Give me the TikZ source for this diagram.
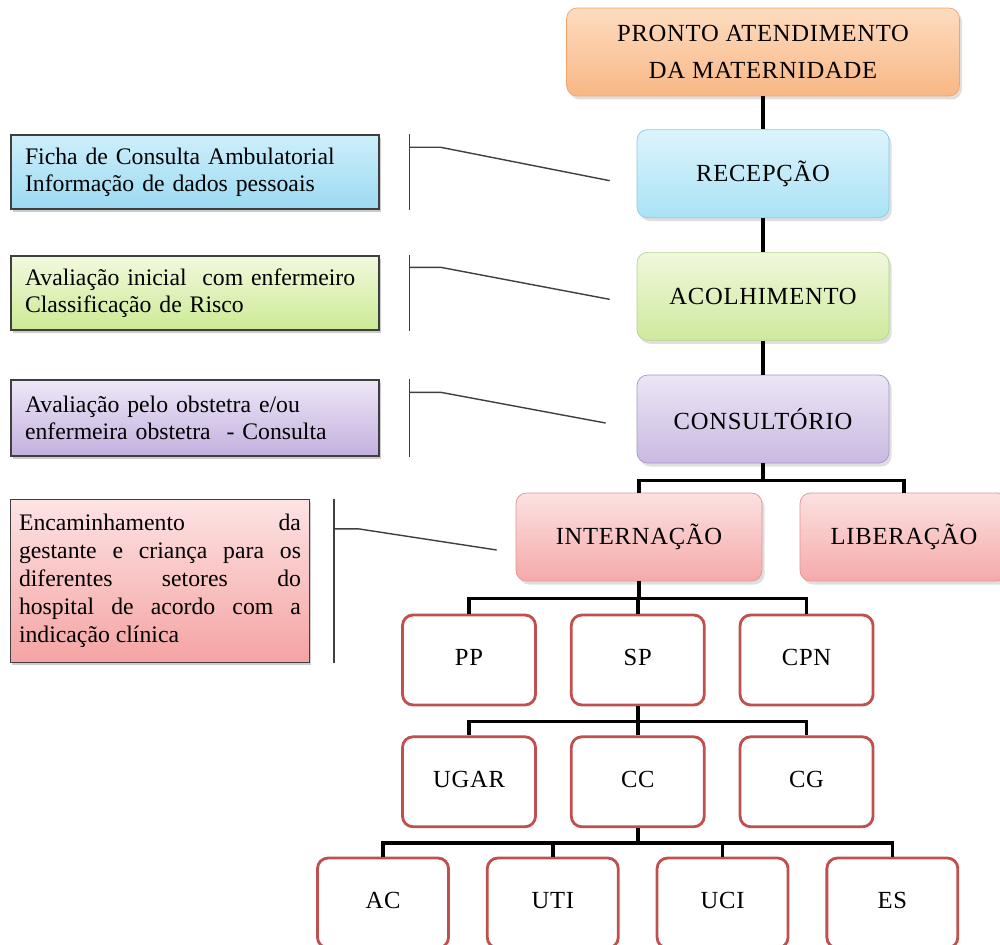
\documentclass[tikz,border=0pt]{standalone}
\usepackage{fontspec}
\setmainfont{Liberation Serif}
\newfontfamily\boxfont[LetterSpace=3]{Liberation Serif}
\usetikzlibrary{positioning,shadows,calc}
\definecolor{ProntoTop}{HTML}{FDDCC0}
\definecolor{ProntoBot}{HTML}{F9B784}
\definecolor{ProntoLine}{HTML}{F2A56A}
\definecolor{RecTop}{HTML}{DDF4FC}
\definecolor{RecBot}{HTML}{A9E2F6}
\definecolor{RecLine}{HTML}{86CDE6}
\definecolor{AcoTop}{HTML}{EFF8DC}
\definecolor{AcoBot}{HTML}{CFE99E}
\definecolor{AcoLine}{HTML}{B3D586}
\definecolor{ConsTop}{HTML}{ECE5F5}
\definecolor{ConsBot}{HTML}{C9B9E1}
\definecolor{ConsLine}{HTML}{A797C9}
\definecolor{IntTop}{HTML}{FCE1E1}
\definecolor{IntBot}{HTML}{F6A9A9}
\definecolor{IntLine}{HTML}{E39595}
\definecolor{SectorCol}{HTML}{C0504D}
\definecolor{NoteLine}{HTML}{3F3F3F}
\definecolor{NoteBlueTop}{HTML}{CDEFFB}
\definecolor{NoteBlueBot}{HTML}{9CDAF2}
\definecolor{NoteGreenTop}{HTML}{F2F9DE}
\definecolor{NoteGreenBot}{HTML}{CCEA94}
\definecolor{NotePurpTop}{HTML}{EEE7F7}
\definecolor{NotePurpBot}{HTML}{C3B0DE}
\definecolor{NotePinkTop}{HTML}{FDE3E3}
\definecolor{NotePinkBot}{HTML}{F5A3A3}
\tikzset{
  rounded box/.style={
    shape = rectangle,
    draw,
    rounded corners=6pt,
    align=center,
    font=\boxfont\fontsize{14}{16}\selectfont,
    },
  shaded box/.style n args={3}{
    rounded box,
    draw = #1,
    top color = #2,
    bottom color = #3,
    drop shadow={shadow xshift=1.5pt,shadow yshift=-2pt,opacity=.25},
    minimum width=5.04cm,
    minimum height=1.76cm,
    },
  note box/.style n args={2}{
    shape = rectangle,
    draw = NoteLine,
    line width=.8pt,
    top color = #1,
    bottom color = #2,
    drop shadow={shadow xshift=1pt,shadow yshift=-1.5pt,opacity=.4},
    minimum width=7.36cm,
    minimum height=1.48cm,
    text width=6.8cm,
    align=left,
    font=\fontsize{13.5}{15.5}\selectfont,
    },
  sector box/.style={
    rounded box,
    draw = SectorCol,
    line width=1.6pt,
    fill=white,
    minimum width=2.66cm,
    minimum height=1.8cm,
    text height=1.5ex,
    text depth=.2ex,
    },
}
\tikzstyle{Link} = [line width=2pt,black]
\tikzstyle{Callout} = [NoteLine,line width=.8pt]

\begin{document}
\begin{tikzpicture}[x=0.02cm,y=-0.02cm]

    \path[use as bounding box,fill=white] (0,0) rectangle (1000,945);

    % Main flow
    \node[shaded box={ProntoLine}{ProntoTop}{ProntoBot},minimum width=7.86cm,
        font=\boxfont\fontsize{14}{21}\selectfont] (pronto) at (763,52)
        {PRONTO ATENDIMENTO\\DA MATERNIDADE};
    \node[shaded box={RecLine}{RecTop}{RecBot},below=.66cm of pronto] (rec) {RECEPÇÃO};
    \node[shaded box={AcoLine}{AcoTop}{AcoBot},below=.68cm of rec] (aco) {ACOLHIMENTO};
    \node[shaded box={ConsLine}{ConsTop}{ConsBot},below=.68cm of aco] (cons) {CONSULTÓRIO};

    \node[shaded box={IntLine}{IntTop}{IntBot},minimum width=4.92cm] (intern) at (639,537) {INTERNAÇÃO};
    \node[shaded box={IntLine}{IntTop}{IntBot},minimum width=4.16cm] (lib) at (904,537) {LIBERAÇÃO};

    % Sectors
    \node[sector box] (pp) at (469,660) {PP};
    \node[sector box,right=.66cm of pp] (sp) {SP};
    \node[sector box,right=.66cm of sp] (cpn) {CPN};

    \node[sector box,below=.58cm of pp] (ugar) {UGAR};
    \node[sector box,below=.58cm of sp] (cc) {CC};
    \node[sector box,below=.58cm of cpn] (cg) {CG};

    \node[sector box,minimum width=2.62cm] (ac) at (383,903) {AC};
    \node[sector box,minimum width=2.62cm,right=.72cm of ac] (uti) {UTI};
    \node[sector box,minimum width=2.62cm,right=.72cm of uti] (uci) {UCI};
    \node[sector box,minimum width=2.62cm,right=.72cm of uci] (es) {ES};

    % Links
    \draw[Link] (pronto.south) -- (rec.north);
    \draw[Link] (rec.south) -- (aco.north);
    \draw[Link] (aco.south) -- (cons.north);
    \draw[Link] (cons.south) -- ++(0,17) -| (intern.north);
    \draw[Link] (cons.south) -- ++(0,17) -| (lib.north);
    \foreach \n in {pp,sp,cpn}
        \draw[Link] (intern.south) -- ++(0,17) -| (\n.north);
    \foreach \n in {ugar,cc,cg}
        \draw[Link] (sp.south) -- ++(0,15) -| (\n.north);
    \foreach \n in {ac,uti,uci,es}
        \draw[Link] (cc.south) -- ++(0,15) -| (\n.north);

    % Notes
    \node[note box={NoteBlueTop}{NoteBlueBot}] (ficha) at (195,172)
        {Ficha de Consulta Ambulatorial\\Informação de dados pessoais};
    \node[note box={NoteGreenTop}{NoteGreenBot}] (aval) at (195,293)
        {Avaliação inicial\ \ com enfermeiro\\Classificação de Risco};
    \node[note box={NotePurpTop}{NotePurpBot},minimum height=1.52cm] (obst) at (195,418)
        {Avaliação pelo obstetra e/ou\\enfermeira obstetra\ \ - Consulta};
    \node[note box={NotePinkTop}{NotePinkBot},minimum width=5.98cm,minimum height=3.26cm,
        text width=5.64cm,align=justify,font=\fontsize{13.5}{15.9}\selectfont] (enc) at (160,581)
        {Encaminhamento da\linebreak gestante e criança para os\linebreak diferentes setores do\linebreak
         hospital de acordo com a\linebreak indicação clínica};

    % Callouts
    \coordinate (recTip) at ([xshift=-.54cm,yshift=-.14cm]rec.west);
    \coordinate (acoTip) at ([xshift=-.54cm,yshift=-.06cm]aco.west);
    \coordinate (consTip) at ([xshift=-.62cm,yshift=-.08cm]cons.west);
    \coordinate (internTip) at ([xshift=-.38cm,yshift=-.26cm]intern.west);

    \draw[Callout] ([xshift=.6cm]ficha.north east) -- ([xshift=.6cm]ficha.south east);
    \draw[Callout] ([xshift=.6cm,yshift=-.26cm]ficha.north east) -- ++(31,0) -- (recTip);
    \draw[Callout] ([xshift=.6cm]aval.north east) -- ([xshift=.6cm]aval.south east);
    \draw[Callout] ([xshift=.6cm,yshift=-.24cm]aval.north east) -- ++(31,0) -- (acoTip);
    \draw[Callout] ([xshift=.6cm]obst.north east) -- ([xshift=.6cm]obst.south east);
    \draw[Callout] ([xshift=.6cm,yshift=-.26cm]obst.north east) -- ++(31,0) -- (consTip);
    \draw[Callout] ([xshift=.48cm]enc.north east) -- ([xshift=.48cm]enc.south east);
    \draw[Callout] ([xshift=.48cm,yshift=-.6cm]enc.north east) -- ++(24,0) -- (internTip);

\end{tikzpicture}
\end{document}
